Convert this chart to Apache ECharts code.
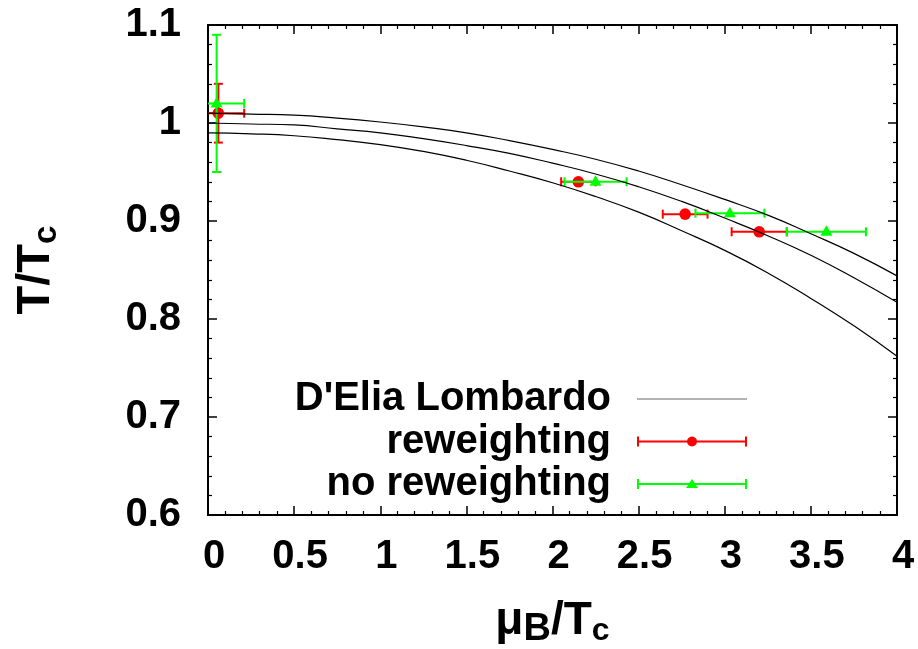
<!DOCTYPE html>
<html><head><meta charset="utf-8">
<script src="https://cdn.jsdelivr.net/npm/echarts@6/dist/echarts.min.js"></script>
<style>html,body{margin:0;padding:0;background:#fff}#c{width:918px;height:649px}</style>
</head><body><div id="c"></div>
<script>
// ---- data ----
const curveX = [0,0.25,0.5,0.75,1,1.25,1.5,1.75,2,2.25,2.5,2.75,3,3.25,3.5,3.75,4];
const curveUpper  = [1.010,1.009,1.008,1.005,1.001,0.996,0.990,0.982,0.973,0.963,0.951,0.937,0.922,0.906,0.887,0.867,0.844];
const curveMiddle = [1.000,0.999,0.998,0.994,0.990,0.984,0.977,0.969,0.959,0.948,0.935,0.920,0.903,0.885,0.865,0.842,0.817];
const curveLower  = [0.990,0.989,0.987,0.983,0.978,0.971,0.962,0.951,0.939,0.925,0.909,0.890,0.870,0.847,0.821,0.793,0.762];

const rewX    = [0.06, 2.15, 2.77, 3.20];
const rewY    = [1.01, 0.94, 0.907, 0.889];
const rewXerr = [0.15, 0.10, 0.13, 0.16];
const rewYerr = [0.03, 0, 0, 0];

const noRewX    = [0.05, 2.25, 3.03, 3.59];
const noRewY    = [1.02, 0.94, 0.908, 0.889];
const noRewXerr = [0.16, 0.18, 0.20, 0.23];
const noRewYerr = [0.07, 0, 0, 0];

const seriesNames = ["D'Elia Lombardo", 'reweighting', 'no reweighting'];
// ---------------------------------------

const FONT = 'Liberation Sans, Arial, sans-serif';
const zip2 = (a, b) => a.map((v, i) => [v, b[i]]);
const zip4 = (a, b, c, d) => a.map((v, i) => [v, b[i], c[i], d[i]]);

function errRender(color, marker) {
  return function (params, api) {
    const x = api.value(0), y = api.value(1), xe = api.value(2), ye = api.value(3);
    const c = api.coord([x, y]);
    const l = api.coord([x - xe, y]);
    const r = api.coord([x + xe, y]);
    const cap = 4.5;
    const st = { stroke: color, lineWidth: 2 };
    const ch = [
      { type: 'line', shape: { x1: l[0], y1: c[1], x2: r[0], y2: c[1] }, style: st },
      { type: 'line', shape: { x1: l[0], y1: c[1] - cap, x2: l[0], y2: c[1] + cap }, style: st },
      { type: 'line', shape: { x1: r[0], y1: c[1] - cap, x2: r[0], y2: c[1] + cap }, style: st }
    ];
    if (ye > 0) {
      const t = api.coord([x, y + ye]);
      const b = api.coord([x, y - ye]);
      ch.push({ type: 'line', shape: { x1: c[0], y1: t[1], x2: c[0], y2: b[1] }, style: st });
      ch.push({ type: 'line', shape: { x1: c[0] - cap, y1: t[1], x2: c[0] + cap, y2: t[1] }, style: st });
      ch.push({ type: 'line', shape: { x1: c[0] - cap, y1: b[1], x2: c[0] + cap, y2: b[1] }, style: st });
    }
    if (marker === 'circle') {
      ch.push({ type: 'circle', shape: { cx: c[0], cy: c[1], r: 5.8 }, style: { fill: color } });
    } else {
      ch.push({ type: 'polygon', shape: { points: [[c[0], c[1] - 6.5], [c[0] + 6, c[1] + 4], [c[0] - 6, c[1] + 4]] }, style: { fill: color } });
    }
    return { type: 'group', children: ch };
  };
}

const axisCommon = {
  type: 'value',
  axisLine: { show: true, onZero: false, lineStyle: { color: '#000', width: 2 } },
  axisTick: { show: true, inside: true, length: 9, lineStyle: { color: '#000', width: 1.5 } },
  minorTick: { show: true, splitNumber: 5, length: 4, lineStyle: { color: '#000', width: 1.2 } },
  splitLine: { show: false },
  minorSplitLine: { show: false }
};
const labelStyle = { fontSize: 40, fontFamily: FONT, fontWeight: 'bold', color: '#000' };
const txt = (size) => ({ fontSize: size, fontFamily: FONT, fontWeight: 'bold', color: '#000' });

const circleIcon = 'M60 5L59.62 6.91L58.54 8.54L56.91 9.62L55 10L53.09 9.62L51.46 8.54L50.38 6.91L50 5L50.38 3.09L51.46 1.46L53.09 0.38L55 0L56.91 0.38L58.54 1.46L59.62 3.09z';

const chart = echarts.init(document.getElementById('c'));
chart.setOption({
  animation: false,
  backgroundColor: '#fff',
  grid: { left: 208, top: 25, width: 689, height: 490, containLabel: false, outerBoundsMode: 'none' },
  xAxis: [
    Object.assign({}, axisCommon, {
      min: 0, max: 4, interval: 0.5, position: 'bottom',
      axisLabel: Object.assign({ margin: 22, padding: [0, 0, 0, 12] }, labelStyle),
      name: '{a|μ}{b|B}{a|/T}{c|c}', nameLocation: 'middle', nameGap: 78,
      nameTextStyle: {
        rich: {
          a: txt(46),
          b: Object.assign(txt(38), { padding: [18, 0, 0, 0] }),
          c: Object.assign(txt(32), { padding: [20, 0, 0, 0] })
        }
      }
    }),
    Object.assign({}, axisCommon, {
      min: 0, max: 4, interval: 0.5, position: 'top', axisLabel: { show: false }
    })
  ],
  yAxis: [
    Object.assign({}, axisCommon, {
      min: 0.6, max: 1.1, interval: 0.1, position: 'left',
      axisLabel: Object.assign({ margin: 27 }, labelStyle),
      name: '{a|T/T}{c|c}', nameLocation: 'middle', nameGap: 145, nameRotate: 90,
      nameTextStyle: {
        rich: {
          a: txt(47),
          c: Object.assign(txt(33), { padding: [20, 0, 0, 0] })
        }
      }
    }),
    Object.assign({}, axisCommon, {
      min: 0.6, max: 1.1, interval: 0.1, position: 'right', axisLabel: { show: false }
    })
  ],
  legend: {
    orient: 'vertical', left: 286, top: 374, align: 'right',
    itemWidth: 110, itemHeight: 10, itemGap: 2.5, selectedMode: false,
    textStyle: { fontSize: 40, fontFamily: FONT, fontWeight: 'bold', color: '#000', width: 320, lineHeight: 40, padding: [0, 21, 0, 0] },
    data: [
      { name: seriesNames[0], icon: 'path://M0 0h0.01v0.01h-0.01z M0 4.4h110v1.2h-110z M109.99 9.99h0.01v0.01h-0.01z', itemStyle: { color: '#666' } },
      { name: seriesNames[1], icon: 'path://M0 0h2v10h-2z M108 0h2v10h-2z M0 4h110v2h-110z ' + circleIcon },
      { name: seriesNames[2], icon: 'path://M0 0h2v10h-2z M108 0h2v10h-2z M0 4h110v2h-110z M55 0L61 9L49 9z' }
    ]
  },
  series: [
    { name: seriesNames[0], type: 'line', data: zip2(curveX, curveUpper), smooth: true, symbol: 'none', lineStyle: { color: '#000', width: 1.2 }, itemStyle: { color: '#000' } },
    { name: seriesNames[0], type: 'line', data: zip2(curveX, curveMiddle), smooth: true, symbol: 'none', lineStyle: { color: '#000', width: 1.2 }, itemStyle: { color: '#000' } },
    { name: seriesNames[0], type: 'line', data: zip2(curveX, curveLower), smooth: true, symbol: 'none', lineStyle: { color: '#000', width: 1.2 }, itemStyle: { color: '#000' } },
    { name: seriesNames[1], type: 'custom', clip: true, renderItem: errRender('#ff0000', 'circle'), itemStyle: { color: '#ff0000' },
      encode: { x: 0, y: 1 }, data: zip4(rewX, rewY, rewXerr, rewYerr) },
    { name: seriesNames[2], type: 'custom', clip: true, renderItem: errRender('#00ff00', 'triangle'), itemStyle: { color: '#00ff00' },
      encode: { x: 0, y: 1 }, data: zip4(noRewX, noRewY, noRewXerr, noRewYerr) }
  ]
});
</script></body></html>
